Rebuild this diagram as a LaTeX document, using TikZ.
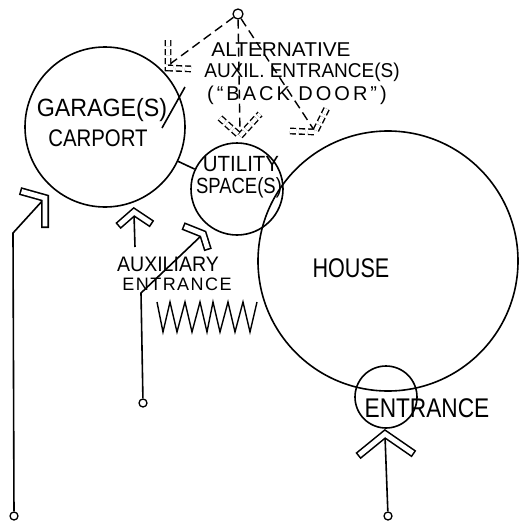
\documentclass[tikz,border=0pt]{standalone}
\usepackage{fontspec}
\setmainfont{Liberation Sans}
\begin{document}
\begin{tikzpicture}[x=1pt,y=-1pt,line width=1.6pt,
  ring/.style={circle,draw,inner sep=0pt},
  dot/.style={circle,draw,inner sep=0pt,minimum size=8pt,line width=1.3pt},
  lbl/.style={inner sep=0pt,font=\fontsize{#1}{#1}\selectfont},
  chevout/.style={line width=8pt,line join=miter},
  chevin/.style={white,line width=4.8pt,line join=miter,shorten <=1.6pt,shorten >=1.6pt},
  dchev/.style={double,double distance=4pt,line width=1.4pt,dash pattern=on 6pt off 3pt},
  dstem/.style={line width=1.4pt,dash pattern=on 9pt off 5pt}]
\useasboundingbox (0,0) rectangle (520,525);

% main circles
\node[ring,minimum size=160pt] (garage) at (105,127) {};
\node[ring,minimum size=92pt] (utility) at (237,189) {};
\node[ring,minimum size=260pt] (house) at (388,261) {};
\node[ring,minimum size=62pt] (entr) at (386,397) {};
\draw (garage) -- (utility);
\draw (162,128) -- (185,87);

% labels
\node[lbl=25] (tg) at (102,110) {\scalebox{0.93}[1]{GARAGE(S)}};
\node[lbl=24] (tc) at (98,138) {\scalebox{0.85}[1]{CARPORT}};
\node[lbl=22] (tu) at (241,164) {\scalebox{0.93}[1]{UTILITY}};
\node[lbl=22] (ts) at (239,188) {\scalebox{0.84}[1]{SPACE(S)}};
\node[lbl=27] (th) at (351,268) {\scalebox{0.8}[1]{HOUSE}};
\node[lbl=20] (ta1) at (281,50) {\scalebox{1.04}[1]{ALTERNATIVE}};
\node[lbl=20] (ta2) at (302,72) {\scalebox{0.95}[1]{AUXIL. ENTRANCE(S)}};
\node[lbl=20] (ta3) at (297,95) {\addfontfeature{LetterSpace=15}(“BACK DOOR”)};
\node[lbl=21] (tx1) at (168,264) {\scalebox{0.93}[1]{AUXILIARY}};
\node[lbl=18] (tx2) at (177,284) {\addfontfeature{LetterSpace=8}ENTRANCE};
\node[lbl=27] (te) at (427,408) {\scalebox{0.84}[1]{ENTRANCE}};

% top alternative entrances (dashed)
\node[dot,minimum size=10pt] (top) at (238,14) {};
\coordinate (d1) at (170,64);
\coordinate (d2) at (240,133);
\coordinate (d3) at (314,130);
\draw[dstem] (top) -- (d1);
\draw[dstem] (top) -- (d2);
\draw[dstem] (top) -- (d3);
\draw[dchev] (168,40) -- (168,68) -- (193,69);
\draw[dchev] (220,118) -- (240,136) -- (260,114);
\draw[dchev] (290,131) -- (315,132) -- (327,108);

% left entrance from far away
\node[dot] (s1) at (14,516) {};
\coordinate (k1) at (13,233);
\coordinate (a1) at (44,199);
\draw (s1) -- (k1) -- (a1);
\draw[chevout] (20,191) -- (45,198) -- (45,228);
\draw[chevin] (20,191) -- (45,198) -- (45,228);

% auxiliary up arrow
\coordinate (a2) at (134,214);
\coordinate (e2) at (135,247);
\draw (e2) -- (a2);
\draw[chevout] (118,226) -- (134,212) -- (152,224);
\draw[chevin] (118,226) -- (134,212) -- (152,224);

% auxiliary entrance to utility
\node[dot] (s3) at (143,403) {};
\coordinate (k3) at (141,293);
\coordinate (a3) at (202,235);
\draw (s3) -- (k3) -- (a3);
\draw[chevout] (183,226) -- (203,234) -- (208,250);
\draw[chevin] (183,226) -- (203,234) -- (208,250);

% main entrance arrow
\node[dot] (s4) at (388,516) {};
\coordinate (a4) at (385,436);
\draw (s4) -- (a4);
\draw[chevout] (358,456) -- (385,434) -- (414,454);
\draw[chevin] (358,456) -- (385,434) -- (414,454);

% zigzag (planting)
\draw[line width=1.4pt,line join=miter] (157,302) -- (163,332) -- (170,302) -- (177,332) -- (185,302)
  -- (192,332) -- (200,302) -- (207,332) -- (213,302) -- (220,332) -- (228,302)
  -- (235,332) -- (243,302) -- (250,332) -- (257,302);
\end{tikzpicture}
\end{document}
